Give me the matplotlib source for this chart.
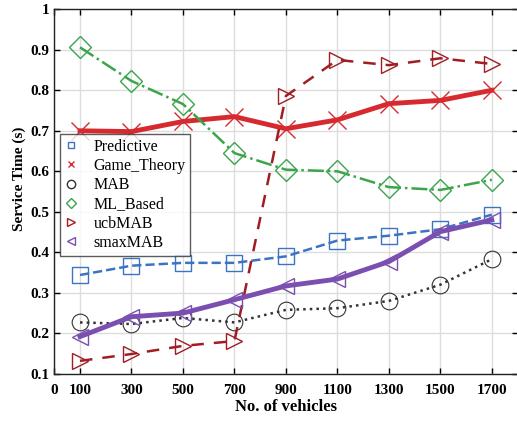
import matplotlib
matplotlib.use("Agg")
import matplotlib.pyplot as plt
from matplotlib.lines import Line2D

plt.rcParams['font.family'] = ['Liberation Serif', 'DejaVu Serif']

vehicles = [100, 300, 500, 700, 900, 1100, 1300, 1500, 1700]
predictive = [0.344, 0.367, 0.374, 0.374, 0.390, 0.429, 0.441, 0.457, 0.493]
game_theory = [0.700, 0.698, 0.723, 0.735, 0.705, 0.727, 0.767, 0.775, 0.800]
mab = [0.227, 0.223, 0.238, 0.227, 0.258, 0.262, 0.280, 0.320, 0.383]
ml_based = [0.906, 0.823, 0.766, 0.645, 0.604, 0.600, 0.561, 0.554, 0.579]
ucb_mab = [0.132, 0.149, 0.169, 0.181, 0.786, 0.875, 0.862, 0.879, 0.865]
smax_mab = [0.192, 0.241, 0.250, 0.283, 0.317, 0.334, 0.377, 0.451, 0.480]

xticks = [0, 100, 300, 500, 700, 900, 1100, 1300, 1500, 1700]
yticks = [0.1, 0.2, 0.3, 0.4, 0.5, 0.6, 0.7, 0.8, 0.9, 1.0]
ytick_labels = ['0.1', '0.2', '0.3', '0.4', '0.5', '0.6', '0.7', '0.8', '0.9', '1']

c_blue = '#3b74c4'
c_red = '#d62a2f'
c_black = '#333333'
c_green = '#3aa54a'
c_dred = '#a11d24'
c_purple = '#7b4fb0'

fig = plt.figure(figsize=(5.17, 4.21), dpi=100)
ax = fig.add_axes([0.105, 0.112, 0.896, 0.866])

ax.plot(vehicles, predictive, '--', color=c_blue, lw=1.8, marker='s', ms=11,
        mfc='none', mec=c_blue, mew=1.0)
ax.plot(vehicles, game_theory, '-', color=c_red, lw=3.5, marker='x', ms=13,
        mec=c_red, mew=1.0)
ax.plot(vehicles, mab, ':', color=c_black, lw=1.8, marker='o', ms=12,
        mfc='none', mec=c_black, mew=0.8)
ax.plot(vehicles, ml_based, '-.', color=c_green, lw=1.8, marker='D', ms=11,
        mfc='none', mec=c_green, mew=1.0)
ax.plot(vehicles, ucb_mab, '--', color=c_dred, lw=1.8, marker='>', ms=12,
        mfc='none', mec=c_dred, mew=1.0, dashes=(5, 4))
ax.plot(vehicles, smax_mab, '-', color=c_purple, lw=3.5, marker='<', ms=12,
        mfc='none', mec=c_purple, mew=1.0)

ax.set_xlim(0, 1800)
ax.set_ylim(0.1, 1.0)
ax.set_xticks(xticks)
ax.set_yticks(yticks)
ax.set_yticklabels(ytick_labels)
ax.grid(True, color='#dddddd', lw=1.0)
ax.set_axisbelow(True)
ax.tick_params(direction='in', top=True, right=True, length=4, width=1,
               labelsize=11)
ax.tick_params(axis='x', pad=7)
for lab in ax.get_xticklabels() + ax.get_yticklabels():
    lab.set_fontweight('bold')
for sp in ax.spines.values():
    sp.set_linewidth(1.0)
    sp.set_color('#222222')

ax.set_xlabel('No. of vehicles', fontsize=12, fontweight='bold', labelpad=2)
ax.set_ylabel('Service Time (s)', fontsize=11, fontweight='bold')
ax.yaxis.set_label_coords(-0.06, 0.535)

handles = [
    Line2D([], [], ls='none', marker='s', ms=5, mfc='none', mec=c_blue),
    Line2D([], [], ls='none', marker='x', ms=5, mec=c_red),
    Line2D([], [], ls='none', marker='o', ms=6, mfc='none', mec=c_black),
    Line2D([], [], ls='none', marker='D', ms=5, mfc='none', mec=c_green),
    Line2D([], [], ls='none', marker='>', ms=6, mfc='none', mec=c_dred),
    Line2D([], [], ls='none', marker='<', ms=6, mfc='none', mec=c_purple),
]
names = ['Predictive', 'Game_Theory', 'MAB', 'ML_Based', 'ucbMAB', 'smaxMAB']
leg = ax.legend(handles, names, loc='upper left', bbox_to_anchor=(0.012, 0.658),
                fontsize=11.5, frameon=True, fancybox=False, edgecolor='#333333',
                handlelength=0.8, handletextpad=1.0, labelspacing=0.2,
                borderpad=0.3, borderaxespad=0)
leg.get_frame().set_linewidth(1.0)

fig.savefig('out.png', dpi=100)
